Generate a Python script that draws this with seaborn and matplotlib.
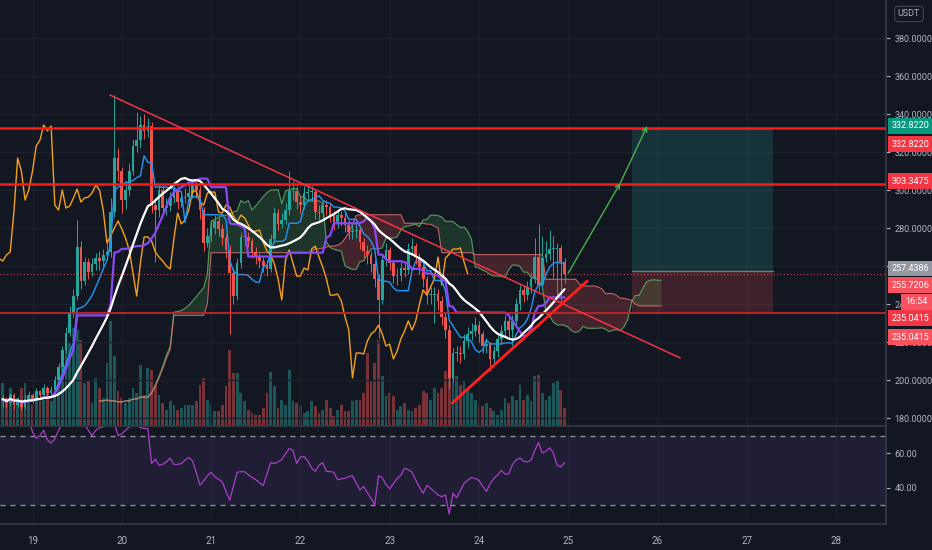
import numpy as np
import pandas as pd
import seaborn as sns
import matplotlib
matplotlib.use("Agg")
import matplotlib.pyplot as plt
import matplotlib.transforms as mtransforms
from matplotlib.patches import Rectangle

BG = '#131722'
GRID = '#1c202b'
TEXT = '#b2b5be'
UP = '#26a69a'
DOWN = '#ef5350'

# hourly candles, the first one is the 18th 16:00; x = hours since the 19th 00:00
first_hour = -8
first_open = 189.0
closes = [
    190, 188, 192, 187, 189, 186, 190, 192, 190, 194,
    192, 196, 193, 195, 200, 207, 216, 225, 236, 244,
    270, 252, 262, 257, 261, 264, 262.6, 265.8, 267.4, 288.4,
    316.8, 310.0, 294.7, 300.0, 310.0, 323.2, 326.3, 334.2, 331.1, 333.7,
    292.1, 289.5, 300.0, 290.5, 291.6, 295.8, 300.5, 293.7, 295.8, 296.3,
    298.4, 302.6, 300.0, 289.5, 272.1, 275.8, 280.0, 283.7, 279.5, 274.7,
    268.4, 256.3, 244.2, 261.6, 275.3, 275.3, 273.2, 267.4, 264.7, 262.6,
    260.0, 258.4, 274.2, 287.9, 282.1, 284.2, 289.5, 299.5, 299.5, 293.7,
    292.1, 298.4, 298.9, 298.9, 288.4, 287.9, 292.1, 291.1, 286.3, 283.2,
    286.8, 285.3, 281.6, 277.9, 278.4, 278.9, 272.6, 267.9, 265.8, 261.1,
    253.2, 242.1, 263.2, 268.4, 261.6, 254.7, 254.7, 258.9, 257.9, 268.9,
    270.5, 264.7, 259.5, 253.2, 244.7, 244.7, 245.3, 241.6, 233.2, 226.3,
    201.1, 214.2, 214.2, 213.7, 220.5, 224.2, 225.8, 228.9, 224.2, 217.9,
    218.9, 211.1, 215.3, 221.6, 225.8, 231.1, 226.3, 231.1, 240.0, 247.4,
    244.7, 248.9, 253.2, 264.7, 250.0, 264.2, 266.3, 268.9, 268.9, 269.5,
    262.1, 255.7,
]
highs = [
    192, 191, 193, 193, 191, 190, 192, 194, 193, 196,
    195, 198, 197, 197, 202, 209, 218, 228, 239, 248,
    284, 273, 265, 264, 264, 267, 268, 269, 272, 296,
    350, 322, 312, 305, 314, 327, 341, 339, 340, 338,
    336, 296, 303, 302, 296, 299, 304, 302, 299, 301,
    303, 306, 305, 302, 291, 280, 284, 287, 286, 282,
    277, 271, 259, 264, 278, 279, 278, 275, 270, 267,
    265, 263, 277, 291, 290, 288, 293, 310, 305, 302,
    297, 302, 303, 302, 300, 292, 295, 295, 293, 289,
    290, 289, 288, 284, 282, 282, 281, 275, 271, 268,
    263, 256, 266, 272, 270, 263, 259, 262, 262, 272,
    275, 272, 267, 261, 255, 249, 249, 248, 244, 236,
    229, 217, 218, 218, 224, 228, 230, 233, 231, 226,
    222, 220, 218, 224, 229, 234, 233, 234, 243, 250,
    250, 252, 257, 275, 282, 276, 273, 279, 276, 272,
    271, 264,
]
lows = [
    186, 186, 187, 185, 186, 184, 185, 189, 188, 189,
    190, 191, 191, 192, 194, 199, 205, 214, 223, 233,
    242, 248, 250, 253, 255, 258, 258, 260, 263, 265,
    286, 305, 288, 290, 297, 308, 320, 322, 327, 328,
    288, 262, 286, 287, 287, 289, 293, 290, 291, 293,
    294, 296, 296, 285, 268, 270, 273, 277, 276, 271,
    264, 224, 240, 242, 259, 271, 270, 264, 261, 259,
    257, 255, 257, 272, 279, 280, 282, 287, 295, 290,
    288, 290, 295, 294, 285, 284, 285, 287, 283, 279,
    280, 281, 278, 274, 274, 275, 269, 264, 261, 257,
    249, 222, 240, 260, 258, 251, 250, 252, 254, 256,
    266, 261, 256, 249, 240, 240, 230, 237, 229, 222,
    196, 199, 210, 209, 211, 217, 221, 223, 220, 214,
    214, 205, 208, 212, 219, 223, 222, 218, 229, 237,
    241, 242, 246, 251, 247, 248, 262, 263, 253, 245,
    241, 251,
]
volumes = [
    43, 23, 38, 20, 28, 38, 43, 28, 21, 28,
    25, 26, 33, 25, 33, 51, 68, 78, 83, 98,
    96, 86, 43, 45, 23, 48, 38, 28, 63, 105,
    70, 35, 28, 23, 28, 38, 33, 61, 31, 58,
    56, 40, 31, 23, 16, 25, 21, 16, 18, 21,
    21, 21, 25, 41, 48, 26, 21, 15, 15, 21,
    40, 76, 53, 53, 33, 25, 16, 13, 11, 11,
    18, 33, 54, 40, 18, 26, 21, 56, 25, 23,
    20, 13, 15, 25, 20, 13, 16, 26, 18, 10,
    16, 21, 15, 15, 25, 26, 26, 33, 73, 45,
    63, 86, 50, 30, 33, 30, 16, 20, 23, 16,
    15, 18, 21, 35, 33, 26, 38, 33, 38, 55,
    80, 70, 50, 41, 46, 36, 33, 26, 21, 20,
    23, 18, 15, 11, 16, 28, 23, 30, 26, 41,
    26, 31, 25, 50, 51, 33, 26, 30, 43, 45,
    36, 18,
]
rsi_values = [
    77, 75.5, 76, 78.5, 79, 79, 79, 79, 72, 68.5,
    70, 73, 67.5, 65.8, 68, 73, 77.5, 79, 80, 80,
    79, 76, 76.5, 73, 70, 73, 74.5, 75, 78, 80,
    77, 70, 71, 73, 75, 75.5, 76.5, 74.5, 74.1, 74,
    54, 56.5, 53, 53.5, 55, 57, 53.5, 53.5, 54, 56,
    57.5, 55.5, 49, 41.7, 44, 47, 49, 46.5, 45, 43.5,
    38, 33, 41, 49, 49.3, 49.3, 47.6, 46, 44.8, 43,
    41.3, 48, 54.5, 54, 55, 56.3, 59.6, 62.6, 61.5, 54,
    57.8, 57.9, 55.5, 51.5, 49.5, 53, 54.5, 49.5, 49.4, 49,
    44.7, 45.3, 45.5, 46.5, 47, 43, 38.9, 40.8, 37.3, 34,
    30.6, 47, 46, 42, 39.5, 42.5, 45.5, 47.3, 51.3, 50.5,
    49, 44.5, 40.5, 37, 41.5, 39.8, 38, 36, 35, 36,
    25, 37, 34.5, 38.5, 42.7, 44.5, 46, 45.5, 44.3, 41,
    38, 42.5, 45.5, 47.4, 50, 48, 48, 53.5, 56, 57.2,
    55.3, 55, 56, 61.5, 66, 60, 61, 63, 60, 53,
    52, 54.5,
]

day_labels = ['19', '20', '21', '22', '23', '24', '25', '26', '27', '28']
price_ticks = [180, 200, 220, 240, 260, 280, 300, 320, 340, 360, 380]
rsi_ticks = [40, 60]

target_price = 332.8220
resistance = 303.3475
support = 235.0415
entry_price = 257.4386
last_price = 255.7206
countdown = '16:54'

# drawings, (hours, prices)
down_trend = ([20.8, 174.1], [350.0, 211.6])
up_trend = ([112.8, 149.1], [187.9, 252.1])
target_path = ([144.0, 158.0, 165.2], [256.3, 303.7, 333.7])
position_hours = [161.2, 199.1]

sns.set_theme(style='dark', rc={'axes.facecolor': BG, 'figure.facecolor': BG})
plt.rcParams['font.family'] = ['Roboto', 'DejaVu Sans']
FS = 6.5

df = pd.DataFrame({'close': closes, 'high': highs, 'low': lows,
                   'volume': volumes, 'rsi': rsi_values})
df['hour'] = np.arange(len(df)) + first_hour
df['open'] = df['close'].shift(1).fillna(first_open)
df['up'] = df['close'] >= df['open']
df['sma20'] = df['close'].rolling(20, min_periods=1).mean()


def midpoint(n):
    hi = df['high'].rolling(n, min_periods=1).max()
    lo = df['low'].rolling(n, min_periods=1).min()
    return (hi + lo) / 2


df['tenkan'] = midpoint(9)
df['kijun'] = midpoint(26)
cloud = pd.DataFrame({'hour': df['hour'] + 26,
                      'span_a': (df['tenkan'] + df['kijun']) / 2,
                      'span_b': midpoint(52)})
lag = pd.DataFrame({'hour': df['hour'] - 26, 'close': df['close']})

fig = plt.figure(figsize=(9.32, 5.5), dpi=100)
ax = fig.add_axes([0, 1 - 426 / 550, 886 / 932, 426 / 550])
ax_rsi = fig.add_axes([0, 1 - 524 / 550, 886 / 932, 97 / 550])
ax_vol = ax.twinx()
ax.set_zorder(ax_vol.get_zorder() + 1)
ax.patch.set_visible(False)

day_hours = [24 * k for k in range(len(day_labels))]
xlim = (-8.74, 229.4)

# grid
for h in day_hours:
    ax.axvline(h, color=GRID, lw=1, zorder=0)
    ax_rsi.axvline(h, color=GRID, lw=1, zorder=0)
for p in price_ticks:
    ax.axhline(p, color=GRID, lw=1, zorder=0)

# volume
colors = np.where(df['up'], UP, DOWN)
ax_vol.bar(df['hour'], df['volume'], width=0.75, color=colors, alpha=0.45, linewidth=0)
ax_vol.set_ylim(0, 426)
ax_vol.set_yticks([])
for s in ax_vol.spines.values():
    s.set_visible(False)

# ichimoku cloud
ax.fill_between(cloud['hour'], cloud['span_a'], cloud['span_b'],
                where=cloud['span_a'] >= cloud['span_b'], interpolate=True,
                color='#43a047', alpha=0.22, lw=0, zorder=1)
ax.fill_between(cloud['hour'], cloud['span_a'], cloud['span_b'],
                where=cloud['span_a'] < cloud['span_b'], interpolate=True,
                color='#ef5350', alpha=0.22, lw=0, zorder=1)
sns.lineplot(data=cloud, x='hour', y='span_a', ax=ax, color='#66bb6a', lw=0.8, alpha=0.8, zorder=2)
sns.lineplot(data=cloud, x='hour', y='span_b', ax=ax, color='#e57373', lw=0.8, alpha=0.8, zorder=2)

# long position tool
ax.fill_between(position_hours, entry_price, target_price, color=UP, alpha=0.2, lw=0, zorder=1)
ax.fill_between(position_hours, support, entry_price, color=DOWN, alpha=0.2, lw=0, zorder=1)
ax.plot(position_hours, [entry_price, entry_price], color='#787b86', lw=1, zorder=2)

# candles
ax.vlines(df['hour'], df['low'], df['high'], colors=colors, lw=0.7, zorder=4)
body_low = df[['open', 'close']].min(axis=1)
body_h = (df['close'] - df['open']).abs().clip(lower=0.5)
ax.bar(df['hour'], body_h, bottom=body_low, width=0.72, color=colors, linewidth=0, zorder=5)

# indicator lines
sns.lineplot(data=lag, x='hour', y='close', ax=ax, color='#f5a01e', lw=1, zorder=6)
sns.lineplot(data=df, x='hour', y='tenkan', ax=ax, color='#2196f3', lw=1, zorder=7)
sns.lineplot(data=df, x='hour', y='kijun', ax=ax, color='#8a48f5', lw=1.6, zorder=7)
sns.lineplot(data=df, x='hour', y='sma20', ax=ax, color='white', lw=1.6, zorder=8)

# levels and drawings
ax.axhline(target_price, color='#ff1a1a', lw=1.8, zorder=9)
ax.axhline(resistance, color='#ff1a1a', lw=1.8, zorder=9)
ax.axhline(support, color='#c0262b', lw=1.3, zorder=9)
ax.axhline(last_price, color='#ef5350', lw=0.8, ls=(0, (1, 2)), alpha=0.8, zorder=9)
ax.plot(*down_trend, color='#f23645', lw=1.1, zorder=9)
ax.plot(*up_trend, color='#ff2020', lw=2, zorder=9)
tx, ty = target_path
for k in range(len(tx) - 1):
    ax.annotate('', xy=(tx[k + 1], ty[k + 1]), xytext=(tx[k], ty[k]),
                arrowprops=dict(arrowstyle='->', color='#4caf50', lw=1,
                                shrinkA=0, shrinkB=0, mutation_scale=8), zorder=10)

ax.set_xlim(*xlim)
ax.set_ylim(175.8, 400)
ax.set_xlabel('')
ax.set_ylabel('')
ax.set_xticks(day_hours)
ax.yaxis.tick_right()
ax.set_yticks(price_ticks)
ax.set_yticklabels([f'{p:.4f}' for p in price_ticks])
ax.tick_params(axis='x', bottom=False, labelbottom=False)
ax.tick_params(axis='y', right=True, left=False, labelright=True, labelleft=False,
               colors=TEXT, labelsize=FS, length=3, width=0.8, pad=3)
for name, s in ax.spines.items():
    s.set_visible(name in ('right', 'bottom'))
    s.set_color('#363a45')

# RSI pane
ax_rsi.set_facecolor(BG)
ax_rsi.axhspan(30, 70, color='#7e57c2', alpha=0.12, lw=0)
ax_rsi.axhline(70, color='#9598a1', lw=0.9, ls=(0, (4, 4)))
ax_rsi.axhline(30, color='#9598a1', lw=0.9, ls=(0, (4, 4)))
sns.lineplot(data=df, x='hour', y='rsi', ax=ax_rsi, color='#a83fc8', lw=0.9)
ax_rsi.set_xlim(*xlim)
ax_rsi.set_ylim(19.4, 74.9)
ax_rsi.set_xlabel('')
ax_rsi.set_ylabel('')
ax_rsi.set_xticks(day_hours)
ax_rsi.set_xticklabels(day_labels)
ax_rsi.yaxis.tick_right()
ax_rsi.set_yticks(rsi_ticks)
ax_rsi.set_yticklabels([f'{v:.2f}' for v in rsi_ticks])
ax_rsi.tick_params(axis='x', colors=TEXT, labelsize=FS + 0.5, length=3, width=0.8, pad=6)
ax_rsi.tick_params(axis='y', right=True, left=False, labelright=True, labelleft=False,
                   colors=TEXT, labelsize=FS, length=3, width=0.8, pad=3)
for name, s in ax_rsi.spines.items():
    s.set_visible(name in ('right', 'bottom'))
    s.set_color('#363a45')

# price labels on the scale (stacked like the app does)
blend = mtransforms.blended_transform_factory(fig.transFigure, ax.transData)
label_specs = [
    (f'{target_price:.4f}', 333.7, '#089981'),
    (f'{target_price:.4f}', 324.2, '#f23645'),
    (f'{resistance:.4f}', 304.7, '#f23645'),
    (f'{entry_price:.4f}', 258.9, '#9598a1'),
    (f'{last_price:.4f}', 250.0, '#f7525f'),
    (f'{support:.4f}', 232.6, '#f23645'),
    (f'{support:.4f}', 222.6, '#f7525f'),
]
for text, yc, c in label_specs:
    fig.add_artist(Rectangle((888 / 932, yc - 4.0), 44 / 932, 8.0, transform=blend,
                             color=c, lw=0, zorder=20))
    fig.text(892 / 932, yc, text, transform=blend, ha='left', va='center',
             color='white', fontsize=FS, zorder=21)
fig.add_artist(Rectangle((901 / 932, 241.1 - 4.0), 31 / 932, 8.0, transform=blend,
                         color='#f7525f', lw=0, zorder=20))
fig.text(916 / 932, 241.1, countdown, transform=blend, ha='center', va='center',
         color='white', fontsize=FS, zorder=21)

fig.text(909 / 932, 1 - 14 / 550, 'USDT', ha='center', va='center', color=TEXT, fontsize=FS,
         bbox=dict(boxstyle='round,pad=0.35', fc=BG, ec='#434651', lw=0.8))

fig.savefig('out.png', dpi=100, facecolor=BG)
